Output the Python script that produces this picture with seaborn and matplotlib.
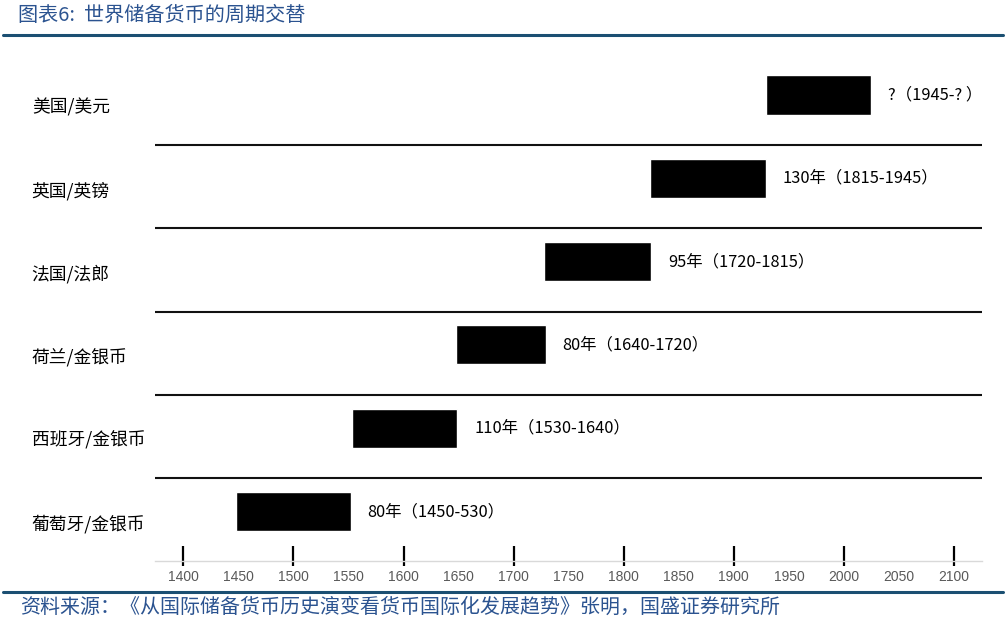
import numpy as np
import pandas as pd
import matplotlib
matplotlib.use("Agg")
import matplotlib.pyplot as plt
from matplotlib.lines import Line2D
import seaborn as sns

# Data (top row first)
currencies = ["美国/美元", "英国/英镑", "法国/法郎", "荷兰/金银币", "西班牙/金银币", "葡萄牙/金银币"]
bar_start = [1929, 1824, 1728, 1648, 1553, 1448]
bar_end = [2025, 1929, 1825, 1729, 1649, 1552]
period_labels = ["?（1945-? ）", "130年（1815-1945）", "95年（1720-1815）",
                 "80年（1640-1720）", "110年（1530-1640）", "80年（1450-530）"]
year_ticks = list(range(1400, 2101, 50))
century_marks = list(range(1400, 2101, 100))

title = "图表6:  世界储备货币的周期交替"
source = "资料来源：《从国际储备货币历史演变看货币国际化发展趋势》张明，国盛证券研究所"

BLUE_TEXT = "#2B5390"
BLUE_LINE = "#1B4F72"

sns.set_theme(style="white")
plt.rcParams["font.family"] = ["Noto Sans CJK SC", "DejaVu Sans"]

df = pd.DataFrame({
    "currency": currencies,
    "start": bar_start,
    "end": bar_end,
})
df["length"] = df["end"] - df["start"]

W, H = 1005, 622
fig = plt.figure(figsize=(W / 100, H / 100), dpi=100)

# axes spans pixel x 155..982, pixel y 50..561 (bottom spine = time axis)
ax = fig.add_axes([155 / W, (H - 561) / H, 827 / W, 511 / H])

sns.barplot(data=df, x="length", y="currency", order=currencies, orient="h",
            color="black", width=0.47, errorbar=None, left=df["start"].values,
            saturation=1, ax=ax)

ax.set_xlim(1374.3, 2125.4)
ax.set_ylim(5.594, -0.540)

# row separators
for k in range(len(currencies) - 1):
    ax.axhline(k + 0.6, color="#111111", lw=1.5)

# row labels on the left
for k, name in enumerate(currencies):
    ax.text(-0.149, k + 0.15, name, transform=ax.get_yaxis_transform(),
            ha="left", va="center", fontsize=12.8, color="black")

# period labels right of the bars
for k, (e, lab) in enumerate(zip(bar_end, period_labels)):
    ax.annotate(lab, xy=(e, k), xytext=(12, 0), textcoords="offset points",
                ha="left", va="center", fontsize=11.8, color="black")

# time axis
for side in ["top", "left", "right"]:
    ax.spines[side].set_visible(False)
ax.spines["bottom"].set_color("#d9d9d9")
ax.spines["bottom"].set_linewidth(1)
ax.set_yticks([])
ax.set_ylabel("")
ax.set_xlabel("")
ax.set_xticks(year_ticks)
ax.set_xticklabels([str(t) for t in year_ticks], fontsize=10, color="#595959",
                   family="Liberation Sans")
ax.tick_params(axis="x", length=0, pad=6.5)
ax.vlines(century_marks, 5.414, 5.654, color="black", lw=1.6, clip_on=False)

# title, source and rules
fig.text(18 / W, 1 - 15 / H, title, ha="left", va="center",
         fontsize=14.5, color=BLUE_TEXT)
fig.add_artist(Line2D([3 / W, 1003 / W], [1 - 35 / H] * 2, color=BLUE_LINE, lw=2.2))
fig.add_artist(Line2D([3 / W, 1003 / W], [1 - 592 / H] * 2, color=BLUE_LINE, lw=2.2))
fig.text(20 / W, 1 - 607 / H, source, ha="left", va="center",
         fontsize=14.4, color=BLUE_TEXT)

fig.savefig("out.png", dpi=100)
